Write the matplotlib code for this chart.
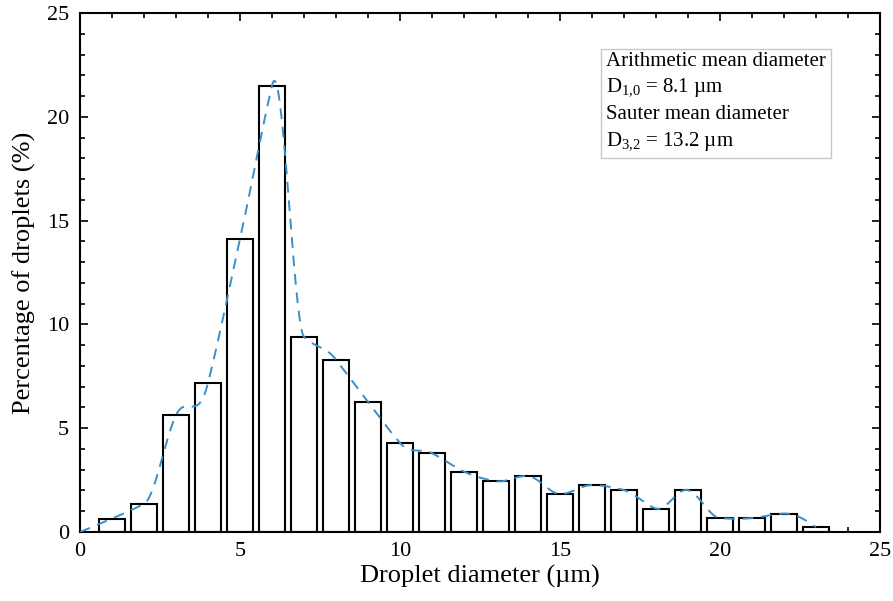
import numpy as np
import matplotlib
matplotlib.use("Agg")
import matplotlib.pyplot as plt
from matplotlib.ticker import MultipleLocator

# bar centres (um) and percentage of droplets
diameters = list(range(1, 24))
percent = [0.65, 1.35, 5.63, 7.18, 14.1, 21.5, 9.4, 8.3, 6.26, 4.29, 3.8, 2.91,
           2.45, 2.7, 1.83, 2.26, 2.02, 1.13, 2.02, 0.67, 0.67, 0.89, 0.24]

# knots of the fitted dashed curve (starts at the origin)
curve_x = [0] + diameters
curve_y = [0.0] + percent

summary_lines = [
    "Arithmetic mean diameter",
    "D$_{1{,}0}$ = 8.1 \u00b5m",
    "Sauter mean diameter",
    "D$_{3{,}2}$ = 13.2 \u00b5m",
]

FONT = "Liberation Serif"
plt.rcParams["font.family"] = [FONT, "DejaVu Serif"]
plt.rcParams["mathtext.fontset"] = "custom"
plt.rcParams["mathtext.rm"] = FONT
plt.rcParams["mathtext.it"] = FONT + ":italic"


def akima(xk, yk, xs):
    # Akima spline, the same kind of smooth line the original curve shows
    xk = np.asarray(xk, float)
    yk = np.asarray(yk, float)
    m = np.diff(yk) / np.diff(xk)
    m = np.concatenate([[3 * m[0] - 2 * m[1], 2 * m[0] - m[1]], m,
                        [2 * m[-1] - m[-2], 3 * m[-1] - 2 * m[-2]]])
    w1 = np.abs(m[3:] - m[2:-1])
    w2 = np.abs(m[1:-2] - m[:-3])
    den = w1 + w2
    t = np.where(den > 1e-12,
                 (w1 * m[1:-2] + w2 * m[2:-1]) / np.where(den > 1e-12, den, 1),
                 0.5 * (m[1:-2] + m[2:-1]))
    idx = np.clip(np.searchsorted(xk, xs) - 1, 0, len(xk) - 2)
    h = xk[idx + 1] - xk[idx]
    s = (xs - xk[idx]) / h
    h00 = 2 * s ** 3 - 3 * s ** 2 + 1
    h10 = s ** 3 - 2 * s ** 2 + s
    h01 = -2 * s ** 3 + 3 * s ** 2
    h11 = s ** 3 - s ** 2
    return h00 * yk[idx] + h10 * h * t[idx] + h01 * yk[idx + 1] + h11 * h * t[idx + 1]


fig = plt.figure(figsize=(8.93, 6.01), dpi=100)
ax = fig.add_axes([0.0896, 0.1148, 0.8958, 0.8636])

ax.bar(diameters, percent, width=0.82, color="white", edgecolor="black",
       linewidth=1.5, zorder=2)

xs = np.linspace(curve_x[0], curve_x[-1], 800)
ax.plot(xs, akima(curve_x, curve_y, xs), color="#3a8fc6",
        linewidth=1.4, dashes=(5.5, 4), zorder=3)

ax.set_xlim(0, 25)
ax.set_ylim(0, 25)
ax.xaxis.set_major_locator(MultipleLocator(5))
ax.xaxis.set_minor_locator(MultipleLocator(1))
ax.yaxis.set_major_locator(MultipleLocator(5))
ax.yaxis.set_minor_locator(MultipleLocator(1))
ax.tick_params(which="both", direction="in", top=True, right=True,
               width=1.2, labelsize=16)
ax.tick_params(which="major", length=6)
ax.tick_params(which="minor", length=3.5)
ax.tick_params(axis="y", which="major", pad=8)
ax.tick_params(axis="x", which="major", pad=7)
for s in ax.spines.values():
    s.set_linewidth(1.5)

ax.set_xlabel("Droplet diameter (\u00b5m)", fontsize=19, labelpad=3)
ax.set_ylabel("Percentage of droplets (%)", fontsize=19, labelpad=8)

ax.text(0.658, 0.925, "\n".join(summary_lines), transform=ax.transAxes,
        fontsize=15, va="top", ha="left", linespacing=1.42,
        bbox=dict(boxstyle="square,pad=0.25", facecolor="white",
                  edgecolor="#c8c8c8", linewidth=1.0), zorder=4)

fig.savefig("out.png", dpi=100)
